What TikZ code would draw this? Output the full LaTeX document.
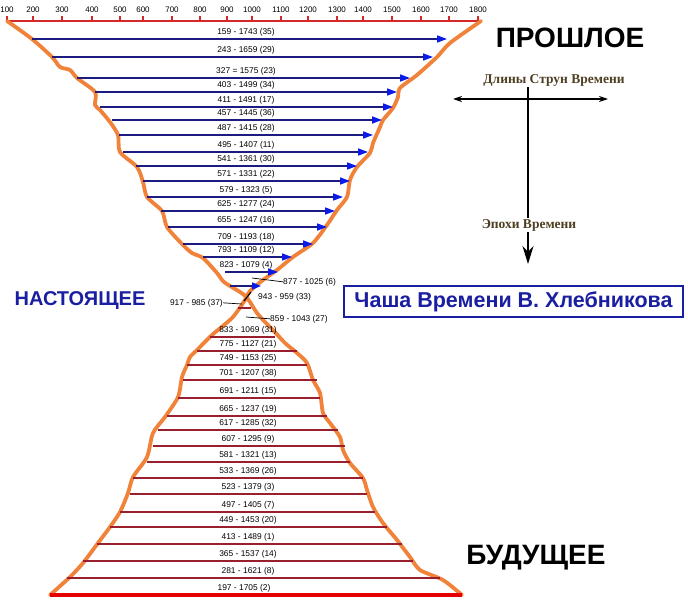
\documentclass[tikz,border=0pt]{standalone}
\usepackage{fontspec}
\setmainfont{Liberation Sans}
\newfontfamily\serifru{Liberation Serif}
\usepackage{xcolor}
\usepackage{tikz}
\usetikzlibrary{positioning}
\usetikzlibrary{positioning,arrows.meta}
\definecolor{navy}{HTML}{1C1C80}
\definecolor{tipblue}{HTML}{0A1AE8}
\definecolor{wine}{HTML}{9A1E2E}
\definecolor{rim}{HTML}{F0823A}
\definecolor{axred}{HTML}{D62828}
\definecolor{nowblue}{HTML}{1A1EA0}
\definecolor{brownish}{HTML}{4E3F22}
\tikzset{
	pastline/.style = {draw=navy, line width=1.6pt,
		-{Triangle[length=10pt,width=7pt,color=tipblue]}},
	futline/.style  = {draw=wine, line width=1.5pt},
	rimline/.style  = {draw=rim, line width=3.8pt, line join=round, line cap=round},
	axisline/.style = {draw=axred, line width=2pt},
	yearlbl/.style  = {font=\fontsize{8.4}{9}\selectfont, inner sep=0pt, anchor=base},
	axislbl/.style  = {font=\fontsize{8}{8}\selectfont, inner sep=0pt, anchor=base},
	leader/.style   = {draw=black, line width=0.7pt},
	bigword/.style  = {font=\bfseries\fontsize{28}{30}\selectfont, inner sep=0pt},
	brownlbl/.style = {font=\serifru\bfseries\fontsize{13.5}{16}\selectfont, text=brownish, inner sep=1pt}
}
\begin{document}
\begin{tikzpicture}[x=1pt, y=-1pt]
\useasboundingbox (0,0) rectangle (688,600);
% year axis
\coordinate (ax0) at (7,21);
\coordinate (ax1) at (481,21);
\draw[axisline] (ax0) -- (ax1);
\foreach \x/\yr [count=\i] in {7/100, 33/200, 62/300, 92/400, 120/500, 143/600, 172/700,
		200/800, 227/900, 252/1000, 281/1100, 308/1200, 337/1300, 363/1400, 392/1500,
		421/1600, 449/1700, 478/1800}{
	\draw[axisline, line width=1.2pt] (\x,16) -- (\x,21);
	\node[axislbl] (yr\i) at (\x,12.5) {\yr};
}
% outline of the cup
\draw[rimline] plot[smooth, tension=0.45] coordinates {(7,21) (32,39) (52,57) (60,67) (70,70) (77,78) (95,92)
	(95,105) (100,110) (110,122) (118,135) (120,152) (137,167) (143,182) (147,197)
	(162,211) (167,227) (182,244) (192,253) (203,258) (217,273) (224,282) (240,292)
	(246,297) (243,303) (232,318) (212,335) (197,350) (190,357) (187,365) (182,377)
	(178,397) (165,417) (153,433) (147,457) (133,477) (128,493) (120,512) (110,527)
	(98,543) (83,563) (70,577) (50,595)};
\draw[rimline] plot[smooth, tension=0.45] coordinates {(481,21) (450,43) (437,57) (417,75) (400,88) (398,97)
	(393,108) (383,120) (380,127) (373,143) (370,153) (357,167) (350,180) (347,197)
	(337,210) (327,225) (313,243) (293,257) (277,270) (263,280) (250,291) (247,297)
	(250,302) (257,313) (265,322) (273,330) (285,343) (297,353) (307,363) (313,380)
	(320,393) (323,413) (330,423) (340,437) (343,450) (350,463) (363,478) (367,490)
	(373,507) (383,523) (397,540) (410,557) (420,570) (443,580) (462,595)};
% past strings
\foreach \y/\xl/\xr/\txt [count=\i] in {
		39/32/447/{159 - 1743 (35)}, 57/52/433/{243 - 1659 (29)},
		78/77/410/{327 = 1575 (23)}, 92/95/397/{403 - 1499 (34)},
		107/100/393/{411 - 1491 (17)}, 120/112/382/{457 - 1445 (36)},
		135/119/373/{487 - 1415 (28)}, 152/123/368/{495 - 1407 (11)},
		166/136/357/{541 - 1361 (30)}, 181/143/350/{571 - 1331 (22)},
		197/147/343/{579 - 1323 (5)}, 211/161/335/{625 - 1277 (24)},
		227/168/327/{655 - 1247 (16)}, 244/183/313/{709 - 1193 (18)},
		257/203/292/{793 - 1109 (12)}, 272/225/278/{823 - 1079 (4)}}{
	\coordinate (pa\i) at (\xl,\y);
	\coordinate (pb\i) at (\xr,\y);
	\draw[pastline] (pa\i) -- (pb\i);
	\node[yearlbl] (pt\i) at (246,\y-5) {\txt};
}
% future strings
\foreach \y/\xl/\xr/\txt [count=\i] in {
		337/210/275/{833 - 1069 (31)}, 351/197/297/{775 - 1127 (21)},
		365/187/307/{749 - 1153 (25)}, 380/183/317/{701 - 1207 (38)},
		398/178/320/{691 - 1211 (15)}, 416/167/327/{665 - 1237 (19)},
		430/158/338/{617 - 1285 (32)}, 446/153/345/{607 - 1295 (9)},
		462/147/350/{581 - 1321 (13)}, 478/133/363/{533 - 1369 (26)},
		494/130/367/{523 - 1379 (3)}, 512/120/375/{497 - 1405 (7)},
		527/110/387/{449 - 1453 (20)}, 544/97/402/{413 - 1489 (1)},
		561/83/413/{365 - 1537 (14)}, 578/67/440/{281 - 1621 (8)}}{
	\coordinate (fa\i) at (\xl,\y);
	\coordinate (fb\i) at (\xr,\y);
	\draw[futline] (fa\i) -- (fb\i);
	\node[yearlbl] (ft\i) at (248,\y-4.5) {\txt};
}
\coordinate (bot0) at (50,595);
\coordinate (bot1) at (462,595);
\draw[axisline, draw=red!90!black, line width=4pt] (bot0) -- (bot1);
\node[yearlbl] (ftlast) at (244,590) {197 - 1705 (2)};
% the neck
\coordinate (na) at (230,286);
\coordinate (nb) at (261,286);
\draw[pastline, -{Triangle[length=9pt,width=7pt,color=tipblue]}] (na) -- (nb);
\node[yearlbl, anchor=base west] (m877) at (283,284) {877 - 1025 (6)};
\coordinate (k877) at (252,278);
\draw[leader] (m877.west) -- (k877);
\coordinate (sa) at (244,301);
\coordinate (sb) at (251,292);
\draw[leader, line width=1.2pt] (sa) -- (sb);
\node[yearlbl, anchor=base west] (m943) at (258,299) {943 - 959 (33)};
\node[yearlbl, anchor=base east] (m917) at (223,305) {917 - 985 (37)};
\coordinate (k917) at (242,304);
\draw[leader] (m917.east) -- (k917);
\coordinate (ra) at (238,308);
\coordinate (rb) at (251,308);
\draw[futline] (ra) -- (rb);
\node[yearlbl, anchor=base west] (m859) at (270,321) {859 - 1043 (27)};
\coordinate (k859) at (246,317);
\draw[leader] (m859.west) -- (k859);
% words
\node[bigword] (past) at (570,38) {ПРОШЛОЕ};
\node[bigword] (future) at (536,558) {БУДУЩЕЕ};
\node[bigword, font=\bfseries\fontsize{20}{22}\selectfont, text=nowblue] (now) at (80,301) {НАСТОЯЩЕЕ};
\node[draw=nowblue, line width=2.6pt, text=nowblue, font=\bfseries\fontsize{21.5}{23}\selectfont,
	minimum width=339pt, minimum height=31pt, inner sep=0pt] (chasha) at (513.5,301.5)
	{Чаша Времени В. Хлебникова};
% the two axes of the legend
\node[brownlbl] (strun) at (554,80) {Длины Струн Времени};
\coordinate (hl) at (453,99);
\coordinate (hr) at (608,99);
\draw[line width=1.3pt, {Stealth[length=9pt,width=6pt]}-{Stealth[length=9pt,width=6pt]}] (hl) -- (hr);
\coordinate (vt) at (528,87);
\coordinate (vb) at (528,264);
\draw[line width=1.5pt, -{Stealth[length=18pt,width=11pt]}] (vt) -- (vb);
\node[brownlbl, fill=white] (epoch) at (529,225) {Эпохи Времени};
\end{tikzpicture}
\end{document}
